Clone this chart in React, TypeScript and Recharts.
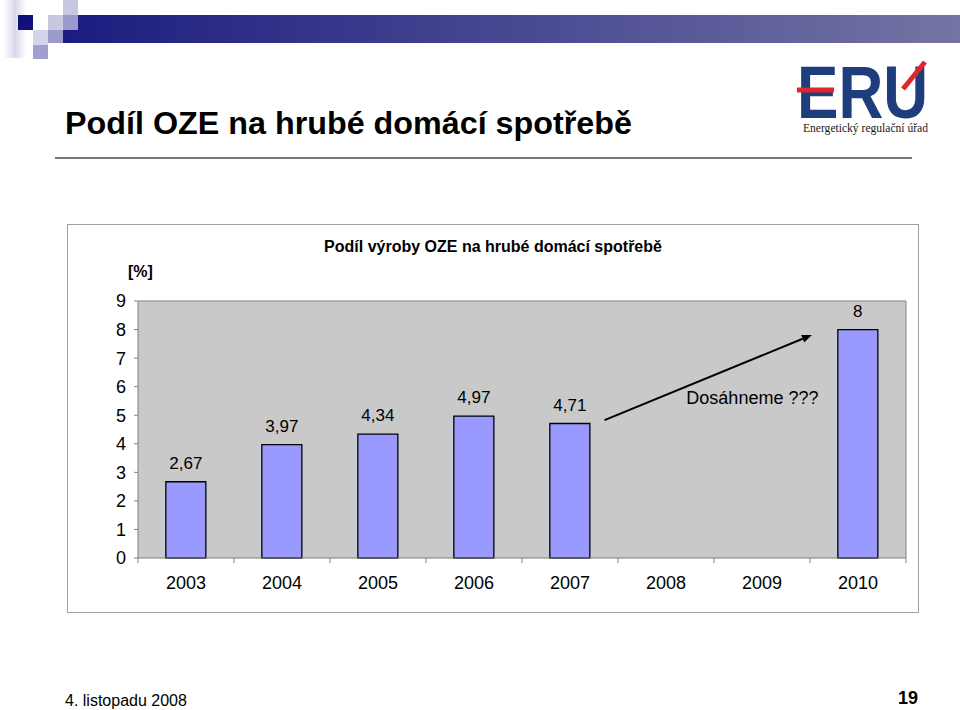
import React from 'react';
import { BarChart, Bar, XAxis, YAxis, CartesianGrid, LabelList, ReferenceLine, ReferenceDot } from 'recharts';

const years = ['2003', '2004', '2005', '2006', '2007', '2008', '2009', '2010'];
const shares: (number | null)[] = [2.67, 3.97, 4.34, 4.97, 4.71, null, null, 8];
const slotCenters = [0.5, 1.5, 2.5, 3.5, 4.5, 5.5, 6.5, 7.5];
const yTicks = [0, 1, 2, 3, 4, 5, 6, 7, 8, 9];
const arrowStart = { x: 4.86, y: 4.83 };
const arrowEnd = { x: 7.02, y: 7.81 };
const noteText = 'Dosáhneme ???';
const notePos = { x: 6.4, y: 5.6 };

const pageTitle = 'Podíl OZE na hrubé domácí spotřebě';
const chartTitle = 'Podíl výroby OZE na hrubé domácí spotřebě';
const unitLabel = '[%]';
const footerDate = '4. listopadu 2008';
const pageNumber = '19';

const data = years.map((year, i) => ({ year, value: shares[i], pos: slotCenters[i] }));

const FONT = '"Liberation Sans", Arial, sans-serif';

const XTick = (props: any) => {
  const { x, y, payload, index } = props;
  const half = payload && payload.offset ? payload.offset : 48;
  return (
    <g>
      <line x1={x - half} y1={y} x2={x - half} y2={y + 5} stroke="#808080" strokeWidth={1} />
      {index === years.length - 1 && (
        <line x1={x + half} y1={y} x2={x + half} y2={y + 5} stroke="#808080" strokeWidth={1} />
      )}
      <text x={x} y={y + 25} dy="0.36em" textAnchor="middle" fontSize={18} fontFamily={FONT} fill="#000">
        {payload.value}
      </text>
    </g>
  );
};

const Arrow = (props: any) => {
  const { x1, y1, x2, y2 } = props;
  if ([x1, y1, x2, y2].some((v) => typeof v !== 'number' || isNaN(v))) return <g />;
  const ang = Math.atan2(y2 - y1, x2 - x1);
  const len = 10;
  const w = 4;
  const bx = x2 - len * Math.cos(ang);
  const by = y2 - len * Math.sin(ang);
  const px = -Math.sin(ang) * w;
  const py = Math.cos(ang) * w;
  return (
    <g>
      <line x1={x1} y1={y1} x2={bx} y2={by} stroke="#000" strokeWidth={2} />
      <polygon points={`${x2},${y2} ${bx + px},${by + py} ${bx - px},${by - py}`} fill="#000" />
    </g>
  );
};

const fmt = (v: any) => (v === null || v === undefined ? '' : String(v).replace('.', ','));

export default function App() {
  return (
    <div style={{ position: 'absolute', left: 0, top: 0, width: 960, height: 710, background: '#fff', fontFamily: FONT, overflow: 'hidden' }}>
      <svg width={960} height={710} style={{ position: 'absolute', left: 0, top: 0 }}>
        <defs>
          <linearGradient id="band" x1="0" x2="1" y1="0" y2="0">
            <stop offset="0" stopColor="#1c1c80" />
            <stop offset="1" stopColor="#7474a4" />
          </linearGradient>
          <linearGradient id="pale" x1="0" x2="1" y1="0" y2="0">
            <stop offset="0" stopColor="#ffffff" />
            <stop offset="0.5" stopColor="#d8d8ec" />
            <stop offset="1" stopColor="#ffffff" />
          </linearGradient>
        </defs>
        <rect x={63} y={15} width={897} height={28} fill="url(#band)" />
        <rect x={4} y={0} width={22} height={58} fill="url(#pale)" />
        <rect x={18} y={15} width={15} height={15} fill="#10107e" />
        <rect x={48} y={15} width={15} height={15} fill="#c8c8e2" />
        <rect x={63} y={0} width={15} height={15} fill="#c8c8e2" />
        <rect x={63} y={15} width={15} height={15} fill="#9a9acc" />
        <rect x={33} y={30} width={15} height={15} fill="#d4d4ea" />
        <rect x={48} y={30} width={15} height={13} fill="#9a9acc" />
        <rect x={33} y={45} width={15} height={14} fill="#a0a0d0" />

        {/* logo */}
        <text x={797} y={118} fontSize={74} fontWeight="bold" fontFamily={FONT} fill="#1d3d7c" textLength={131} lengthAdjust="spacingAndGlyphs">ERU</text>
        <line x1={797} y1={90} x2={834} y2={90} stroke="#e0262b" strokeWidth={5} />
        <line x1={903} y1={89} x2={925} y2={62} stroke="#e0262b" strokeWidth={5} />
        <text x={803} y={132} fontSize={11.5} fontFamily='"Liberation Serif", serif' fill="#1a1a1a" textLength={125} lengthAdjust="spacingAndGlyphs">Energetický regulační úřad</text>

        <text x={65} y={134} fontSize={32} fontWeight="bold" fontFamily={FONT} fill="#000" textLength={567} lengthAdjust="spacingAndGlyphs">{pageTitle}</text>
        <line x1={55} y1={158} x2={912} y2={158} stroke="#4a4a4a" strokeWidth={1.5} />

        <text x={65} y={706} fontSize={16} fontFamily={FONT} fill="#000">{footerDate}</text>
        <text x={918} y={704} fontSize={18} fontWeight="bold" textAnchor="end" fontFamily={FONT} fill="#000">{pageNumber}</text>
      </svg>

      <div style={{ position: 'absolute', left: 67, top: 224, width: 850, height: 387, border: '1px solid #a0a0a0', background: '#fff' }}>
        <div style={{ position: 'absolute', left: 0, width: 850, top: 13, textAlign: 'center', fontSize: 16, fontWeight: 'bold', color: '#000' }}>{chartTitle}</div>
        <div style={{ position: 'absolute', left: 60, top: 38, fontSize: 16, fontWeight: 'bold', color: '#000' }}>{unitLabel}</div>
        <div style={{ position: 'absolute', left: 0, top: 0 }}>
          <BarChart width={850} height={387} data={data} margin={{ top: 76, right: 12, bottom: 0, left: 0 }} barCategoryGap="29%">
            <CartesianGrid fill="#c9c9c9" stroke="none" horizontal={false} vertical={false} />
            <XAxis dataKey="year" axisLine={{ stroke: '#808080' }} tickLine={false} tickSize={0} tickMargin={0} tick={<XTick />} interval={0} height={54} />
            <XAxis xAxisId="n" dataKey="pos" type="number" scale="linear" domain={[0, 8]} allowDataOverflow hide />
            <YAxis domain={[0, 9]} ticks={yTicks} interval={0} width={70} axisLine={{ stroke: '#808080' }} tickLine={{ stroke: '#808080' }} tickSize={4} tickMargin={8} tick={{ fontSize: 18, fill: '#000', fontFamily: FONT }} />
            <ReferenceLine y={9} stroke="#808080" />
            <ReferenceLine x={8} xAxisId="n" stroke="#808080" ifOverflow="visible" />
            <Bar dataKey="value" fill="#9999ff" stroke="#000" strokeWidth={1.3} isAnimationActive={false}>
              <LabelList dataKey="value" position="top" offset={13} formatter={fmt} style={{ fontSize: 17, fill: '#000', fontFamily: FONT }} />
            </Bar>
            <ReferenceLine xAxisId="n" segment={[arrowStart, arrowEnd]} ifOverflow="visible" shape={<Arrow />} />
            <ReferenceDot xAxisId="n" x={notePos.x} y={notePos.y} r={0} fill="none" stroke="none" ifOverflow="visible" label={{ value: noteText, position: 'center', fontSize: 18, fill: '#000', fontFamily: FONT }} />
          </BarChart>
        </div>
      </div>
    </div>
  );
}
